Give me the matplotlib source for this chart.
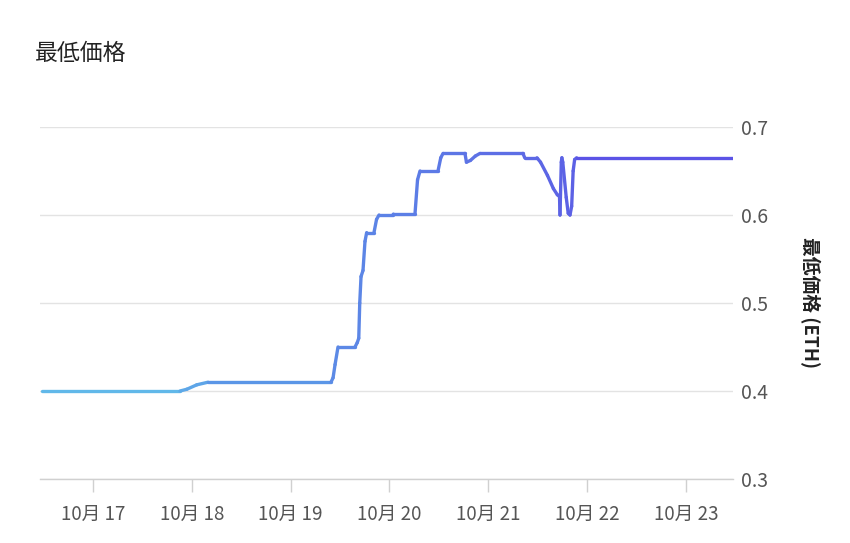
import matplotlib
matplotlib.use("Agg")
import matplotlib.pyplot as plt
import numpy as np
from matplotlib.collections import LineCollection
from matplotlib.colors import LinearSegmentedColormap

plt.rcParams['font.family'] = ['Noto Sans CJK JP', 'DejaVu Sans']

# day of October (fractional) and floor price (ETH)
days = [16.484, 17.881, 17.95, 18.05, 18.164, 19.409, 19.43, 19.45, 19.48,
        19.652, 19.675, 19.690, 19.700, 19.713, 19.733, 19.753, 19.770, 19.844,
        19.87, 19.895, 20.036, 20.04, 20.259, 20.285, 20.31, 20.492, 20.52,
        20.543, 20.765, 20.78, 20.82, 20.87, 20.917, 21.352, 21.37, 21.494,
        21.53, 21.60, 21.66, 21.70, 21.722, 21.727, 21.740, 21.746, 21.755,
        21.790, 21.810, 21.828, 21.845, 21.860, 21.875, 21.895, 23.478]
prices = [0.400, 0.400, 0.402, 0.407, 0.410, 0.410, 0.415, 0.430, 0.450,
          0.450, 0.455, 0.460, 0.500, 0.530, 0.537, 0.570, 0.580, 0.580,
          0.595, 0.600, 0.600, 0.601, 0.601, 0.640, 0.650, 0.650, 0.665,
          0.670, 0.670, 0.660, 0.662, 0.667, 0.670, 0.670, 0.665, 0.665,
          0.660, 0.645, 0.630, 0.623, 0.621, 0.600, 0.660, 0.665, 0.660,
          0.620, 0.602, 0.600, 0.610, 0.650, 0.663, 0.665, 0.665]

tick_days = [17, 18, 19, 20, 21, 22, 23]
tick_labels = ["10月 17", "10月 18", "10月 19", "10月 20", "10月 21", "10月 22", "10月 23"]
y_ticks = [0.3, 0.4, 0.5, 0.6, 0.7]
title = "最低価格"
y_label = "最低価格 (ETH)"

fig = plt.figure(figsize=(8.5, 5.43), dpi=100)
ax = fig.add_axes([40/850, 1-479/543, (733-40)/850, (479-127)/543])

x = np.array(days)
y = np.array(prices)
pts = np.column_stack([x, y]).reshape(-1, 1, 2)
segs = np.concatenate([pts[:-1], pts[1:]], axis=1)
cmap = LinearSegmentedColormap.from_list("g", ["#64c8ea", "#5b95e7", "#5d6ee5", "#5a45e6"])
xmin, xmax = 16.4636, 23.478
norm = plt.Normalize(xmin, xmax)
lc = LineCollection(segs, colors=cmap(norm((x[:-1] + x[1:]) / 2)), linewidths=2.4,
                    capstyle='round', joinstyle='round', zorder=3)
ax.add_collection(lc)

ax.set_xlim(xmin, xmax)
ax.set_ylim(0.3, 0.7)

ax.yaxis.tick_right()
ax.set_yticks(y_ticks)
ax.set_yticklabels([f"{v:.1f}" for v in y_ticks])
ax.set_xticks(tick_days)
ax.set_xticklabels(tick_labels)

for s in ['top', 'left', 'right']:
    ax.spines[s].set_visible(False)
ax.spines['bottom'].set_color('#d0d0d0')
ax.spines['bottom'].set_linewidth(1.0)

ax.grid(axis='y', color='#e3e3e3', linewidth=1.0, zorder=0)
ax.tick_params(axis='y', length=0, pad=6, labelsize=14, labelcolor='#555555')
ax.tick_params(axis='x', length=9, width=1.0, color='#d0d0d0', pad=9,
               labelsize=13.5, labelcolor='#555555')

ax.yaxis.set_label_position('right')
ax.set_ylabel(y_label, rotation=270, fontsize=13.5, fontweight='bold',
              color='#222222', labelpad=37)

fig.text(35/850, 1-53/543, title, fontsize=16.5, color='#222222', va='center', ha='left')

fig.savefig("out.png", dpi=100, facecolor='white')
